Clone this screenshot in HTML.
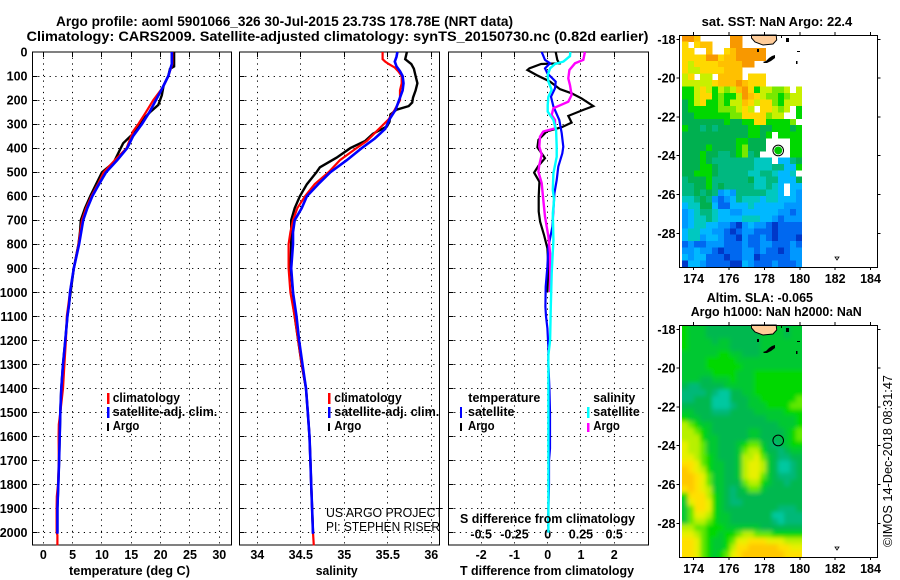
<!DOCTYPE html>
<html>
<head>
<meta charset="utf-8">
<title>Argo profile</title>
<style>
html,body{margin:0;padding:0;background:#fff;}
svg{display:block;}
text{font-family:"Liberation Sans",sans-serif;fill:#000;}
.b{font-weight:bold;font-size:12.5px;}
.t{font-weight:bold;font-size:14px;}
.n{font-size:13px;}
</style>
</head>
<body>
<svg id="chart" xmlns="http://www.w3.org/2000/svg" width="900" height="580" viewBox="0 0 900 580">
<defs>
<filter id="sla-smooth" filterUnits="userSpaceOnUse" x="650" y="300" width="200" height="280"><feGaussianBlur stdDeviation="2.2"/></filter>
<clipPath id="sla-clip"><rect x="682" y="325" width="120" height="232"/></clipPath>
</defs>
<rect width="900" height="580" fill="#fff"/>
<text class="t" x="56" y="26" textLength="457" lengthAdjust="spacingAndGlyphs">Argo profile: aoml 5901066_326 30-Jul-2015 23.73S 178.78E (NRT data)</text>
<text class="t" x="26.5" y="41" textLength="622" lengthAdjust="spacingAndGlyphs">Climatology: CARS2009. Satellite-adjusted climatology: synTS_20150730.nc (0.82d earlier)</text>

<g id="p1"></g>
<g id="p2"></g>
<g id="p3"></g>
<g id="m1"></g>
<g id="m2"></g>

<g id="static-labels">
<text class="b" x="69" y="575" textLength="121" lengthAdjust="spacingAndGlyphs">temperature (deg C)</text>
<text class="b" x="315.7" y="575" textLength="42" lengthAdjust="spacingAndGlyphs">salinity</text>
<text class="b" x="460" y="575" textLength="174" lengthAdjust="spacingAndGlyphs">T difference from climatology</text>
<text class="b" x="460" y="523" textLength="175" lengthAdjust="spacingAndGlyphs">S difference from climatology</text>

<rect x="107" y="393" width="2.5" height="11" fill="#f00"/>
<rect x="107" y="407" width="2.5" height="11" fill="#00f"/>
<rect x="107" y="423" width="2" height="8" fill="#000"/>
<text class="b" x="112.7" y="402" textLength="67.3" lengthAdjust="spacingAndGlyphs">climatology</text>
<text class="b" x="112.7" y="416" textLength="104.6" lengthAdjust="spacingAndGlyphs">satellite-adj. clim.</text>
<text class="b" x="112.7" y="430" textLength="26.6" lengthAdjust="spacingAndGlyphs">Argo</text>

<rect x="328" y="393" width="2.5" height="11" fill="#f00"/>
<rect x="328" y="407" width="2.5" height="11" fill="#00f"/>
<rect x="328" y="423" width="2" height="8" fill="#000"/>
<text class="b" x="334.3" y="402" textLength="67.4" lengthAdjust="spacingAndGlyphs">climatology</text>
<text class="b" x="334.3" y="416" textLength="105" lengthAdjust="spacingAndGlyphs">satellite-adj. clim.</text>
<text class="b" x="334.3" y="430" textLength="27" lengthAdjust="spacingAndGlyphs">Argo</text>
<text class="n" x="326" y="517" textLength="117" lengthAdjust="spacingAndGlyphs">US ARGO PROJECT</text>
<text class="n" x="326" y="531" textLength="114" lengthAdjust="spacingAndGlyphs">PI: STEPHEN RISER</text>

<text class="b" x="468.3" y="402" textLength="72" lengthAdjust="spacingAndGlyphs">temperature</text>
<rect x="460" y="407" width="2" height="11" fill="#00f"/>
<rect x="460" y="423" width="2" height="8" fill="#000"/>
<text class="b" x="468" y="416" textLength="46.5" lengthAdjust="spacingAndGlyphs">satellite</text>
<text class="b" x="468" y="430" textLength="26.6" lengthAdjust="spacingAndGlyphs">Argo</text>
<text class="b" x="593.3" y="402" textLength="42" lengthAdjust="spacingAndGlyphs">salinity</text>
<rect x="587" y="407" width="2.5" height="11" fill="#0ff"/>
<rect x="587" y="423" width="2.5" height="9" fill="#f0f"/>
<text class="b" x="593.3" y="416" textLength="46.5" lengthAdjust="spacingAndGlyphs">satellite</text>
<text class="b" x="593.3" y="430" textLength="26.6" lengthAdjust="spacingAndGlyphs">Argo</text>

<text class="t" x="701.7" y="26" textLength="150.6" lengthAdjust="spacingAndGlyphs" style="font-size:12.5px">sat. SST: NaN Argo: 22.4</text>
<text class="t" x="706.7" y="302" textLength="106.3" lengthAdjust="spacingAndGlyphs" style="font-size:12.5px">Altim. SLA: -0.065</text>
<text class="t" x="690.7" y="316" textLength="171" lengthAdjust="spacingAndGlyphs" style="font-size:12.5px">Argo h1000: NaN h2000: NaN</text>
<text class="n" transform="translate(892,547) rotate(-90)" x="0" y="0" textLength="172" lengthAdjust="spacingAndGlyphs">©IMOS 14-Dec-2018 08:31:47</text>
</g>
</svg>
<script>
// ---- Profile data ----
const depthTicks = [0,100,200,300,400,500,600,700,800,900,1000,1100,1200,1300,1400,1500,1600,1700,1800,1900,2000];
const tempTicks = [0,5,10,15,20,25,30];
const salTicks = [34,34.5,35,35.5,36];
const tDiffTicks = [-2,-1,0,1,2];
const sDiffTicks = [-0.5,-0.25,0,0.25,0.5];
const lonTicks = [174,176,178,180,182,184];
const latTicks = [-18,-20,-22,-24,-26,-28];

const tempArgoDepth = [0,60,70,100,140,180,220,250,280,300,340,380,420,460,500,550,600,650,700,750,800,900,1000,1100,1200,1300,1400,1500,1600,1700,1800,1900,2000];
const tempArgo = [22.3,22.3,21.6,21.3,20.5,20.2,19.6,18.2,17,16.5,15.3,13.6,12.8,12,10,9,8,7.1,6.4,6.25,6,5.2,4.65,4.1,3.75,3.35,3.07,2.9,2.8,2.7,2.55,2.4,2.4];
const tempClimDepth = [0,50,100,150,200,250,300,330,400,450,500,550,600,650,700,800,900,1000,1100,1200,1300,1400,1500,1550,1600,1700,1800,1850,1900,2000,2010,2053];
const tempClim = [22,22,21.3,20.3,18.75,17.5,16.2,15.3,14.2,12.2,10.3,9.3,8.2,7.3,6.6,6,5.2,4.55,4,3.85,3.6,3.35,2.9,2.65,2.6,2.65,2.5,2.3,2.27,2.27,2.4,2.4];
const tempSatDepth = [0,50,100,150,200,250,300,350,400,450,500,550,600,650,700,800,900,1000,1050,1100,1200,1300,1400,1500,1600,1700,1800,1900,2005];
const tempSat = [21.9,21.9,21.3,20.3,19.2,18.1,16.8,15.3,14.3,12.6,10.7,9.5,8.35,7.5,6.8,6.1,5.2,4.55,4.4,4.1,3.75,3.35,3.07,2.9,2.8,2.7,2.55,2.4,2.4];

const salArgoDepth = [0,30,50,70,100,130,160,190,210,225,240,260,290,310,340,370,400,440,480,500,550,600,650,700,800,900,1000,1050,1100,1200,1300,1400,1500,1600,1700,1800,1900,2000];
const salArgo = [35.72,35.7,35.77,35.8,35.82,35.84,35.82,35.79,35.78,35.74,35.6,35.53,35.52,35.49,35.33,35.24,35.07,34.91,34.72,34.68,34.57,34.49,34.43,34.39,34.39,34.38,34.41,34.41,34.43,34.47,34.51,34.56,34.58,34.6,34.61,34.62,34.63,34.64];
const salClimDepth = [0,30,40,50,65,80,100,130,160,200,240,280,330,370,400,450,500,550,600,650,700,750,800,900,1000,1100,1200,1300,1400,1500,1600,1700,1800,1900,2000,2053];
const salClim = [35.44,35.44,35.47,35.51,35.58,35.62,35.66,35.66,35.64,35.64,35.58,35.51,35.37,35.26,35.14,34.95,34.82,34.66,34.55,34.46,34.41,34.38,34.36,34.36,34.38,34.43,34.47,34.51,34.56,34.58,34.6,34.61,34.62,34.63,34.64,34.65];
const salSatDepth = [0,20,40,60,80,100,130,160,200,240,280,320,360,400,450,500,550,600,650,700,750,800,900,1000,1100,1200,1300,1400,1500,1600,1700,1800,1900,2005];
const salSat = [35.61,35.6,35.58,35.6,35.64,35.67,35.68,35.67,35.63,35.59,35.52,35.47,35.35,35.2,35.03,34.84,34.7,34.57,34.51,34.43,34.41,34.41,34.39,34.41,34.45,34.48,34.52,34.56,34.58,34.6,34.61,34.62,34.63,34.64];

const dTArgoDepth = [0,33,47,50,68,75,96,123,155,172,193,225,241,266,294,313,331,366,397,442,474,502,540,602,664,706,761,817,893,1000];
const dTArgo = [0.24,0.29,0.35,-0.2,-0.55,-0.61,-0.33,0.07,0.37,0.72,1.02,1.37,1.07,0.62,0.72,0.42,-0.03,-0.28,-0.31,-0.08,-0.28,-0.41,-0.25,-0.27,-0.27,-0.23,-0.11,-0.01,0.02,-0.01];
const dTSatDepth = [0,33,47,68,89,123,151,186,227,283,338,394,422,477,533,588,657,727,810,893,976,1060,1100,1150,1200,1230,1300,1400,1500,1600,1650,1700,1800,1900,2000];
const dTSat = [-0.18,-0.08,0.07,-0.08,-0.01,0.24,0.22,0.1,0.17,0.35,0.42,0.47,0.44,0.32,0.27,0.2,0.17,0.14,0.02,-0.01,-0.06,-0.07,-0.05,-0.01,0.01,0.02,0.02,0.05,0.07,0.07,0.07,0.04,0.04,0.02,0.02];
const dSSatDepth = [0,17,40,50,68,96,123,158,186,220,248,283,325,394,436,505,574,616,671,782,920,1060,1200,1260,1400,1600,1800,2000];
const dSSat = [0.17,0.168,0.118,0.055,0.018,0,0.005,0.03,0.005,0,0,0.043,0.063,0.068,0.068,0.043,0.038,0.048,0.038,0.043,0.03,0.023,0.018,0.005,0.005,0.005,0.005,0.005];
const dSArgoDepth = [0,33,47,75,110,138,179,207,234,262,283,318,331,352,394,428,470,498,546,616,685,768,838,920,1000];
const dSArgo = [0.28,0.268,0.205,0.163,0.155,0.168,0.18,0.155,0.043,0.03,0.055,0.055,-0.033,-0.058,-0.063,-0.045,-0.063,-0.07,-0.045,-0.033,-0.02,0.005,0.018,0.018,0.018];

// ---- Map data: colour-level per cell, row = north to south, _ = no data ----
const _ = null;
const sstLevels = [
[12,12,11,_,_,_,_,_,12,12,_,_,_,_,_,_,_,_,_,_],
[10,_,10,11,11,_,_,_,12,12,_,_,_,_,_,_,_,_,_,_],
[10,10,_,_,11,_,_,10,11,12,12,12,12,12,_,_,_,_,_,_],
[10,10,10,10,12,12,10,11,11,12,12,12,12,12,_,_,_,_,_,_],
[10,9,10,10,10,10,11,11,11,11,12,12,_,_,_,_,_,_,_,_],
[10,9,9,10,10,10,10,11,11,11,_,_,_,_,_,_,_,_,_,_],
[9,10,_,9,9,_,11,11,11,11,_,10,10,10,_,_,_,_,_,_],
[9,9,9,9,9,10,11,11,11,12,11,10,10,10,_,_,_,_,_,_],
[7,7,9,10,9,7,9,8,9,11,12,10,7,9,9,8,8,9,_,9],
[7,7,9,10,10,7,8,7,7,9,12,11,10,9,8,8,7,8,9,9],
[6,7,9,10,7,7,8,7,9,9,11,10,9,10,10,8,7,9,9,9],
[6,7,7,7,7,7,8,8,8,9,10,9,_,10,10,9,8,9,_,7],
[6,6,7,7,7,7,7,7,8,8,10,10,10,10,8,9,9,_,_,7],
[6,6,6,6,6,6,6,7,6,6,7,7,10,10,7,7,7,7,8,_],
[7,6,6,5,6,5,6,6,6,6,6,7,7,6,6,7,7,7,6,7],
[6,6,6,6,6,6,6,6,6,6,6,7,7,6,7,_,7,7,7,7],
[6,6,6,6,6,6,6,6,6,7,7,6,6,6,_,_,_,_,7,7],
[6,6,6,6,7,6,6,6,6,7,8,6,6,6,_,_,_,_,7,7],
[6,6,6,7,6,6,5,5,6,7,8,5,6,_,_,_,_,_,7,7],
[6,6,6,7,6,5,5,5,5,5,5,5,4,4,4,_,3,3,5,6],
[6,6,6,7,7,6,5,5,5,5,5,5,4,4,4,5,5,3,3,7],
[6,6,7,7,7,6,5,5,5,5,5,4,4,5,5,4,3,3,4,_],
[5,6,6,6,7,5,5,5,5,5,5,6,4,4,5,5,3,3,3,6],
[5,5,6,6,7,5,6,5,5,5,5,5,4,4,5,4,3,_,3,3],
[5,5,6,5,6,5,2,3,2,5,5,5,5,5,4,4,3,_,3,2],
[4,4,5,6,5,2,1,2,3,5,4,4,4,3,4,4,3,3,3,2],
[3,4,4,6,6,3,1,1,3,3,3,4,3,3,3,3,3,2,2,2],
[2,3,4,5,5,4,3,3,2,2,3,3,3,3,3,3,2,2,1,2],
[2,3,4,4,5,4,3,3,3,3,4,4,4,3,3,2,1,2,2,2],
[2,3,4,4,3,3,2,2,1,0,2,3,2,2,1,0,1,1,1,1],
[3,4,4,3,3,2,2,1,0,1,2,2,1,1,1,0,1,1,1,1],
[3,4,4,2,3,3,2,1,1,0,2,1,1,2,1,0,1,1,1,0],
[1,2,1,1,2,2,2,1,1,1,2,1,1,2,2,1,1,1,2,1],
[2,2,3,2,2,1,0,1,1,1,2,2,1,2,1,1,0,1,2,2],
[3,2,3,3,1,1,1,0,1,1,2,2,0,1,1,1,1,1,2,2],
[0,3,3,2,1,1,1,1,0,0,3,2,1,1,1,2,1,1,1,2]
];
const slaLevels = [
[4,3,3,3,2,2,2,2,2,2,2,2,2,3,3,3,3,2,3,3],
[4,3,3,3,2,2,2,2,2,2,2,2,2,3,3,3,3,2,3,3],
[4,3,3,3,3,2,3,3,2,2,2,2,2,3,3,3,3,3,3,3],
[4,3,3,3,3,3,3,3,2,2,2,2,2,3,3,3,3,3,3,3],
[3,3,3,3,3,3,4,4,3,3,2,2,2,3,3,3,3,3,3,3],
[3,3,3,3,4,4,4,4,4,3,3,3,3,3,3,3,3,3,3,3],
[3,3,3,3,4,4,4,4,4,4,3,3,3,3,3,3,3,3,3,3],
[3,3,3,3,3,4,4,4,4,3,3,3,4,4,4,4,4,4,4,4],
[3,3,3,2,2,3,3,3,4,3,3,3,4,4,4,4,4,4,4,4],
[2,1,1,2,2,2,2,3,3,3,3,3,4,4,4,4,4,4,4,4],
[1,1,1,1,2,1,0,0,2,2,3,3,4,4,4,4,4,4,4,4],
[1,1,2,2,2,0,0,0,2,2,2,3,3,4,4,4,4,4,4,5],
[2,2,2,2,2,0,0,0,1,2,2,3,3,3,4,4,4,4,5,5],
[3,3,2,2,2,1,1,1,2,2,2,2,3,3,3,3,3,4,4,4],
[4,3,3,2,2,2,2,2,2,2,2,2,2,2,3,3,3,3,3,4],
[6,5,4,3,3,2,2,2,2,2,2,2,2,2,2,2,3,3,3,4],
[6,6,5,4,3,2,2,2,2,2,2,3,3,2,2,2,2,3,4,5],
[6,6,6,4,3,3,2,2,2,2,2,3,3,2,2,2,2,3,4,5],
[7,6,6,5,3,3,2,2,2,3,4,5,5,3,2,1,2,3,4,4],
[7,6,6,5,3,3,2,2,2,3,5,6,6,4,2,2,1,2,3,3],
[7,7,6,5,4,3,2,2,2,3,6,6,7,5,3,2,1,1,2,2],
[8,8,7,5,4,3,3,2,2,3,6,7,7,6,3,2,0,0,1,2],
[9,8,7,6,4,3,3,2,2,3,6,7,7,6,3,2,0,0,1,2],
[9,9,8,7,5,3,3,2,2,3,6,7,7,5,3,2,1,1,1,2],
[9,9,8,7,5,3,3,2,2,2,5,6,6,4,3,2,2,1,2,2],
[8,9,8,7,6,3,3,2,1,2,3,5,5,3,2,2,2,2,2,2],
[4,8,8,8,6,4,3,2,1,2,2,2,2,2,2,2,2,2,2,2],
[3,7,8,8,7,4,3,2,1,1,2,2,2,2,2,2,2,2,2,2],
[3,5,8,8,7,4,3,2,2,2,2,2,2,2,2,2,1,1,1,2],
[3,5,7,7,6,4,3,3,2,2,2,2,2,2,2,0,0,1,1,1],
[3,5,6,6,5,4,3,3,2,2,2,2,2,2,2,1,0,1,1,1],
[6,6,5,5,4,4,4,3,3,3,3,3,3,2,2,2,2,2,2,2],
[7,7,6,5,4,4,3,4,4,5,6,6,5,5,5,4,4,4,4,4],
[8,8,7,5,4,3,3,4,5,7,7,8,8,8,7,7,7,6,6,6],
[8,8,7,5,4,3,3,4,6,8,8,9,9,9,9,9,8,8,7,7],
[8,8,7,5,4,3,4,5,7,8,9,9,9,9,9,9,9,8,8,8]
];
const sstColors = ['#0038c8','#0068f0','#0098ff','#00b8ff','#00c8c0','#00b880','#00b050','#00d800','#78e800','#c8f000','#ffd800','#ffc000','#f89800'];
const slaColors = ['#00c8a0','#00b878','#00b850','#00c830','#00d800','#60e800','#b8f000','#e8f000','#ffe000','#ffc800'];

// ---- Axis functions ----
const SVGNS = 'http://www.w3.org/2000/svg';
const depthY = d => 52 + 0.2403 * d;
const tempX = t => 43.3 + 5.867 * t;
const salX = s => 257.3 + 87 * (s - 34);
const dTX = v => 547.7 + 33.25 * v;
const dSX = v => 547.7 + 133 * v;
const lonX = l => 693.7 + 17.68 * (l - 174);
const latY = (lat, base) => base + 19.4 * (-18 - lat);
const snap = v => Math.round(v) + 0.5;

function mk(parent, tag, attrs, txt) {
  const el = document.createElementNS(SVGNS, tag);
  for (const k in attrs) el.setAttribute(k, attrs[k]);
  if (txt !== undefined) el.textContent = txt;
  parent.appendChild(el);
  return el;
}

function drawPanel(g, x0, x1, xTicks, xFn, labelFn, labelY) {
  const y0 = 52, y1 = 545;
  depthTicks.forEach(d => {
    if (d === 0) return;
    const y = snap(depthY(d) - 0.5);
    const line = mk(g, 'line', {x1: x0, x2: x1, y1: y, y2: y, stroke: '#000', 'stroke-width': 1, 'stroke-dasharray': '1.2 4.5'});
    
    
    const tick = mk(g, 'line', {x1: x0, x2: x0 + 5, y1: y, y2: y, stroke: '#000', 'stroke-width': 1, 'shape-rendering': 'crispEdges'});
    
    
  });
  xTicks.forEach(v => {
    const x = snap(xFn(v) - 0.5);
    const line = mk(g, 'line', {x1: x, x2: x, y1: y0, y2: y1, stroke: '#000', 'stroke-width': 1, 'stroke-dasharray': '1.2 4.5'});
    
    
    const tick = mk(g, 'line', {x1: x, x2: x, y1: y0, y2: y0 + 5, stroke: '#000', 'stroke-width': 1, 'shape-rendering': 'crispEdges'});
    
    
    const lab = mk(g, 'text', {x: xFn(v), y: labelY, 'text-anchor': 'middle', class: 'b'}, labelFn(v));
    
    
  });
  const frame = mk(g, 'rect', {x: x0, y: y0, width: x1 - x0, height: y1 - y0, fill: 'none', stroke: '#000', 'stroke-width': 1, 'shape-rendering': 'crispEdges'});
  
  
}

function drawProfile(g, depths, values, xFn, color, width, name) {
  const pts = depths.map((d, i) => xFn(values[i]).toFixed(1) + ',' + depthY(d).toFixed(1)).join(' ');
  const line = mk(g, 'polyline', {points: pts, fill: 'none', stroke: color, 'stroke-width': width, 'stroke-linejoin': 'miter'});
  
  
}

const p1 = document.getElementById('p1');
const p2 = document.getElementById('p2');
const p3 = document.getElementById('p3');

drawPanel(p1, 32.5, 231.5, tempTicks, tempX, v => String(v), 559);
drawPanel(p2, 239.5, 439.5, salTicks, salX, v => String(v), 559);
drawPanel(p3, 448.5, 648.5, tDiffTicks, dTX, v => String(v), 559);

depthTicks.forEach(d => {
  const lab = mk(p1, 'text', {x: 27.5, y: depthY(d) + 4.5, 'text-anchor': 'end', class: 'b'}, String(d));
  
  
});
sDiffTicks.forEach(v => {
  const lab = mk(p3, 'text', {x: dSX(v), y: 538.7, 'text-anchor': 'middle', class: 'b'}, String(v));
  
  
});

drawProfile(p1, tempArgoDepth, tempArgo, tempX, '#000', 2.4, 'temperature-argo-line');
drawProfile(p1, tempClimDepth, tempClim, tempX, '#f00', 2.2, 'temperature-climatology-line');
drawProfile(p1, tempSatDepth, tempSat, tempX, '#00f', 2.6, 'temperature-satellite-line');

drawProfile(p2, salArgoDepth, salArgo, salX, '#000', 2.4, 'salinity-argo-line');
drawProfile(p2, salClimDepth, salClim, salX, '#f00', 2.2, 'salinity-climatology-line');
drawProfile(p2, salSatDepth, salSat, salX, '#00f', 2.6, 'salinity-satellite-line');

drawProfile(p3, dTArgoDepth, dTArgo, dTX, '#000', 2.2, 't-difference-argo-line');
drawProfile(p3, dTSatDepth, dTSat, dTX, '#00f', 2.2, 't-difference-satellite-line');
drawProfile(p3, dSArgoDepth, dSArgo, dSX, '#f0f', 2.4, 's-difference-argo-line');
drawProfile(p3, dSSatDepth, dSSat, dSX, '#0ff', 2.4, 's-difference-satellite-line');

function drawMap(g, levels, colors, top, base, labelY, cellName, markerFill, islandName, smooth) {
  const lon0 = 173.34, lonStep = 0.339, latStep = 0.332;
  let cellParent = g;
  if (smooth) {
    const clip = mk(g, 'g', {'clip-path': 'url(#sla-clip)'});
    
    
    cellParent = mk(clip, 'g', {filter: 'url(#sla-smooth)'});
    
    
  }
  const nRows = levels.length;
  levels.forEach((row, r) => {
    row.forEach((v, c) => {
      if (v === null) return;
      let x = lonX(lon0 + c * lonStep);
      let w = lonX(lon0 + (c + 1) * lonStep) - x;
      let y = latY(-17.78 - r * latStep, base);
      let h = latY(-17.78 - (r + 1) * latStep, base) - y;
      if (smooth) {
        if (c === 0) { x -= 12; w += 12; }
        if (c === row.length - 1) { w += 12; }
        if (r === 0) { y -= 12; h += 12; }
        if (r === nRows - 1) { h += 12; }
      }
      const cell = mk(cellParent, 'rect', {x: x.toFixed(2), y: y.toFixed(2), width: (w + 0.3).toFixed(2), height: (h + 0.3).toFixed(2), fill: colors[v], 'shape-rendering': 'crispEdges'});
      
      
    });
  });
  const dy = top - 35;
  const island = mk(g, 'path', {d: 'M751.5 35 L751.5 38 L755 42 L763 45 L773 44 L776.7 40 L776.2 35 Z', transform: 'translate(0,' + dy + ')', fill: '#ffcc99', stroke: '#000', 'stroke-width': 1});
  
  
  const islets = mk(g, 'path', {d: 'M763 62 L766 61 L769 58 L772 56 L775 55 L775 58 L771 61 L767 63 L764 63 Z M757 49 h2 v3 h-2 Z M786 38 h3 v4 h-3 Z M797 51 h3 v1 h-3 Z M796 61 h1.500 v3 h-1.500 Z M781 36 h1 v2 h-1 Z', transform: 'translate(0,' + dy + ')', fill: '#000'});
  
  
  const reef = mk(g, 'path', {d: 'M835 257 h4 l-2 3 Z', transform: 'translate(0,' + dy + ')', fill: 'none', stroke: '#000', 'stroke-width': 0.8});
  
  

  const x0 = 679.5, x1 = 877.5, y0 = top, y1 = top + 232;
  const frame = mk(g, 'rect', {x: x0, y: y0 + 0.5, width: x1 - x0, height: y1 - y0, fill: 'none', stroke: '#000', 'stroke-width': 1, 'shape-rendering': 'crispEdges'});
  
  
  lonTicks.forEach(l => {
    const x = lonX(l);
    const topTick = mk(g, 'line', {x1: x, x2: x, y1: y0 - 3, y2: y0, stroke: '#000', 'stroke-width': 1, 'shape-rendering': 'crispEdges'});
    
    
    const botTick = mk(g, 'line', {x1: x, x2: x, y1: y1, y2: y1 + 3, stroke: '#000', 'stroke-width': 1, 'shape-rendering': 'crispEdges'});
    
    
    const lab = mk(g, 'text', {x: x, y: labelY, 'text-anchor': 'middle', class: 'b'}, String(l));
    
    
  });
  latTicks.forEach(lat => {
    const y = latY(lat, base);
    const leftTick = mk(g, 'line', {x1: x0 - 3, x2: x0, y1: y, y2: y, stroke: '#000', 'stroke-width': 1, 'shape-rendering': 'crispEdges'});
    
    
    const rightTick = mk(g, 'line', {x1: x1, x2: x1 + 3, y1: y, y2: y, stroke: '#000', 'stroke-width': 1, 'shape-rendering': 'crispEdges'});
    
    
    const lab = mk(g, 'text', {x: 675.5, y: y + 4.5, 'text-anchor': 'end', class: 'b'}, String(lat));
    
    
  });
  const marker = mk(g, 'circle', {cx: lonX(178.78), cy: latY(-23.73, base), r: 5.3, fill: markerFill === 'none' ? 'none' : '#fff', stroke: '#000', 'stroke-width': 1});
  
  
  if (markerFill !== 'none') {
    const dot = mk(g, 'circle', {cx: lonX(178.78), cy: latY(-23.73, base), r: 4, fill: markerFill});
    
    
  }
}

drawMap(document.getElementById('m1'), sstLevels, sstColors, 35, 39.3, 283, 'sst-cell', '#00c800', 'island-sst', false);
drawMap(document.getElementById('m2'), slaLevels, slaColors, 325, 329.3, 573, 'sla-cell', 'none', 'island-sla', true);
</script>
</body>
</html>
